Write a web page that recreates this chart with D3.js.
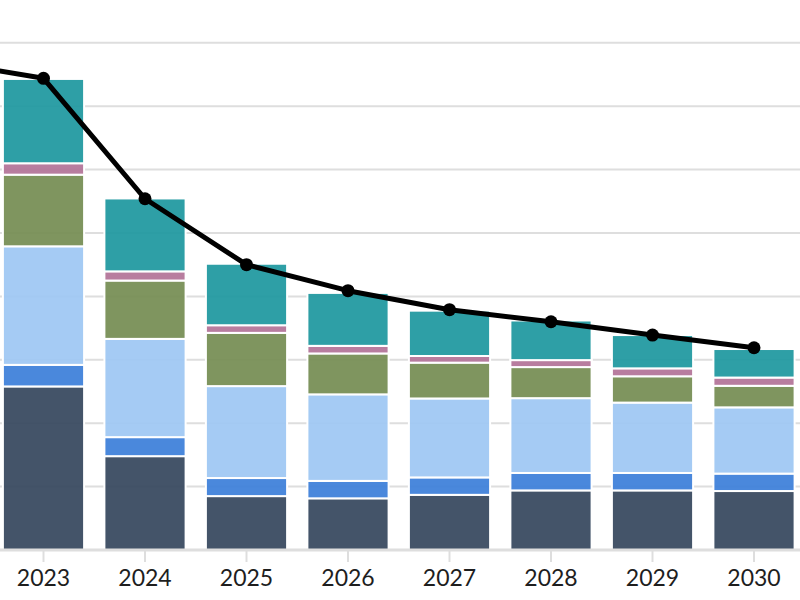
<!DOCTYPE html>
<html>
<head>
<meta charset="utf-8">
<script src="https://d3js.org/d3.v7.min.js"></script>
<style>
  body { margin: 0; background: #fff; }
  svg { display: block; }
</style>
</head>
<body>
<script>
// years on the x axis (2022 sits just off the left edge, only its line point shows)
var years = ["2022", "2023", "2024", "2025", "2026", "2027", "2028", "2029", "2030"];
var barYears = ["2023", "2024", "2025", "2026", "2027", "2028", "2029", "2030"];

// stacked series, bottom to top
var seriesNames = ["navy", "blue", "lightblue", "olive", "pink", "teal"];
var navy      = [25.8, 14.8,  8.5,  8.15, 8.7,  9.4,  9.4,  9.3];
var blue      = [ 3.4,  3.0,  2.85, 2.75, 2.75, 2.75, 2.75, 2.75];
var lightblue = [18.7, 15.5, 14.5, 13.65, 12.45, 11.8, 11.1, 10.45];
var olive     = [11.3,  9.2,  8.4,  6.45, 5.65, 4.9,  4.15, 3.4];
var pink      = [ 1.8,  1.45, 1.2,  1.2,  1.05, 1.1,  1.25, 1.3];
var teal      = [13.3, 11.5,  9.7,  8.35, 7.15, 6.25, 5.25, 4.5];

// total line
var lineValues = [77.1, 74.4, 55.4, 45.0, 40.9, 37.9, 36.0, 33.9, 31.9];

var colors = {
  navy: "#384960",
  blue: "#3f81da",
  lightblue: "#9fc8f3",
  olive: "#778e55",
  pink: "#b47599",
  teal: "#2199a0"
};

var width = 800, height = 600;

var svg = d3.select("body").append("svg")
    .attr("width", width)
    .attr("height", height)
    .style("font-family", "Lato, 'Noto Sans', sans-serif");

var x = d3.scaleBand()
    .domain(years)
    .range([-108.75, 804.75])
    .paddingInner(0.2)
    .paddingOuter(0.1);

var y = d3.scaleLinear()
    .domain([0, 80])
    .range([550, 42.8]);

// gridlines
svg.append("g")
    .selectAll("line")
    .data(y.ticks(8).filter(function(d) { return d > 0; }))
    .enter().append("line")
    .attr("x1", 0)
    .attr("x2", width)
    .attr("y1", function(d) { return y(d); })
    .attr("y2", function(d) { return y(d); })
    .attr("stroke", "#dedede")
    .attr("stroke-width", 2);

// stack data
var rows = barYears.map(function(yr, i) {
  return {
    year: yr,
    navy: navy[i], blue: blue[i], lightblue: lightblue[i],
    olive: olive[i], pink: pink[i], teal: teal[i]
  };
});
var stacked = d3.stack().keys(seriesNames)(rows);

svg.append("g")
    .selectAll("g")
    .data(stacked)
    .enter().append("g")
    .attr("fill", function(d) { return colors[d.key]; })
    .attr("fill-opacity", 0.94)
    .selectAll("rect")
    .data(function(d) { return d; })
    .enter().append("rect")
    .attr("x", function(d) { return x(d.data.year); })
    .attr("width", x.bandwidth())
    .attr("y", function(d) { return y(d[1]); })
    .attr("height", function(d) { return y(d[0]) - y(d[1]); })
    .attr("stroke", "#fff")
    .attr("stroke-width", 2);

// x axis (2022 tick/label fall off the left edge, so only visible years are labelled)
var xAxis = svg.append("g")
    .attr("transform", "translate(0,550)");
xAxis.append("line")
    .attr("x1", 0).attr("x2", width)
    .attr("stroke", "#dedede")
    .attr("stroke-width", 3);
xAxis.selectAll(".tick")
    .data(barYears)
    .enter().append("line")
    .attr("x1", function(d) { return x(d) + x.bandwidth() / 2; })
    .attr("x2", function(d) { return x(d) + x.bandwidth() / 2; })
    .attr("y1", 1)
    .attr("y2", 12)
    .attr("stroke", "#dedede")
    .attr("stroke-width", 2);
xAxis.selectAll("text")
    .data(barYears)
    .enter().append("text")
    .attr("x", function(d) { return x(d) + x.bandwidth() / 2; })
    .attr("y", 36)
    .attr("text-anchor", "middle")
    .attr("font-size", 23)
    .attr("fill", "#1e1e1e")
    .text(function(d) { return d; });

// total line
var line = d3.line()
    .x(function(d, i) { return x(years[i]) + x.bandwidth() / 2; })
    .y(function(d) { return y(d); });

svg.append("path")
    .datum(lineValues)
    .attr("d", line)
    .attr("fill", "none")
    .attr("stroke", "#000")
    .attr("stroke-width", 5)
    .attr("stroke-linejoin", "round");

svg.append("g")
    .selectAll("circle")
    .data(lineValues)
    .enter().append("circle")
    .attr("cx", function(d, i) { return x(years[i]) + x.bandwidth() / 2; })
    .attr("cy", function(d) { return y(d); })
    .attr("r", 6.5)
    .attr("fill", "#000");
</script>
</body>
</html>
